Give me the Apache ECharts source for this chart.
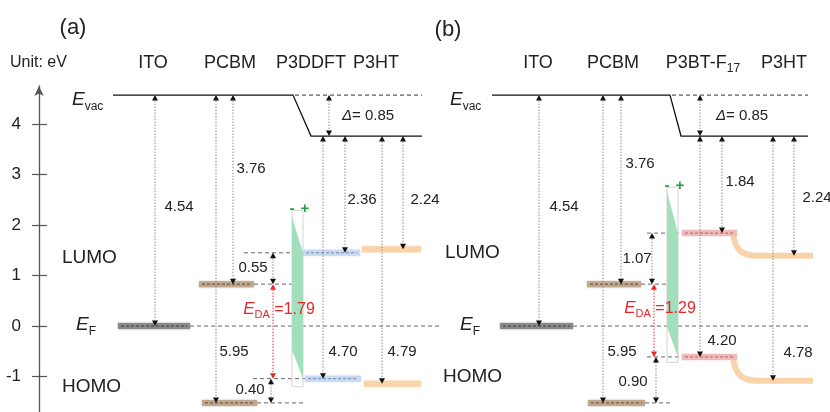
<!DOCTYPE html>
<html>
<head>
<meta charset="utf-8">
<script src="https://cdn.jsdelivr.net/npm/echarts@6/dist/echarts.min.js"></script>
<style>
html,body{margin:0;padding:0;background:#fff;}
#chart{width:830px;height:412px;}
</style>
</head>
<body>
<div id="chart"></div>
<script>
// ---- data (energies in eV, Fermi level = 0) ----
const panelTags = ['(a)', '(b)'];
const donorNames = ['P3DDFT', 'P3BT-F'];
const donorSub = ['', '17'];
const vacLevel = [4.57, 4.57];
const vacShifted = [3.76, 3.76];
const itoLevel = [0, 0];
const pcbmLUMO = [0.83, 0.83];
const pcbmHOMO = [-1.52, -1.52];
const donorLUMO = [1.45, 1.84];
const donorHOMO = [-1.04, -0.61];
const p3htLUMO = [1.52, 1.39];
const p3htHOMO = [-1.14, -1.08];
// numbers written next to the arrows
const itoWF = ['4.54', '4.54'];
const pcbmEA = ['3.76', '3.76'];
const pcbmIP = ['5.95', '5.95'];
const donorEA = ['2.36', '1.84'];
const donorIP = ['4.70', '4.20'];
const p3htEA = ['2.24', '2.24'];
const p3htIP = ['4.79', '4.78'];
const vacStep = ['0.85', '0.85'];
const lumoOffset = ['0.55', '1.07'];
const homoOffset = ['0.40', '0.90'];
const eDA = ['1.79', '1.29'];
// interface dipole wedge
const dipoleTop = [2.29, 2.75];
const wedgeTop = [2.16, 2.66];
const dipoleBottom = [-1.2, -0.72];
const wedgeFoot = [-0.47, -0.02];
const yTicks = [-1, 0, 1, 2, 3, 4];

// ---- layout (x in px; label anchors as [x, eV]) ----
const colX = [
  {vac:[113,293,311,422], ito:[118,190], itoArrow:155, efDash:[190,440],
   pcbmL:[199,254], pcbmH:[202,257], pcbmLDash:297, pcbmHDash:303, pcbmArrowH:216, pcbmArrowL:233,
   gapL:273, gapEDA:273, gapH:271, donorLDash:244, donorHDash:253, dipole:[292,303],
   donorL:[303,360], donorH:[305,361], stepArrow:329, donorArrowH:323, donorArrowL:345,
   p3htL:[362,421], p3htH:[364,421], p3htArrowH:382, p3htArrowL:403, head:[153,230,311,376]},
  {vac:[492,670,681,808], ito:[500,573], itoArrow:539, efDash:[573,810],
   pcbmL:[587,641], pcbmH:[588,645], pcbmLDash:667, pcbmHDash:671, pcbmArrowH:603, pcbmArrowL:621,
   gapL:652, gapEDA:654, gapH:656, donorLDash:647, donorHDash:647, dipole:[667,678],
   donorL:[682,737], donorH:[682,737], stepArrow:700, donorArrowH:700, donorArrowL:722,
   bend:[733,758,813], p3htArrowH:773, p3htArrowL:794, head:[538,613,703,784]}
];
const labelPos = [
  {tag:[73,5.9], ito:[179,2.36], pcbmIP:[234,-0.51], pcbmEA:[251,3.11], gapL:[253,1.15], eda:[279,0.34],
   gapH:[250,-1.26], step:[368,4.16], donorIP:[343,-0.51], donorEA:[362,2.49], p3htIP:[402,-0.51],
   p3htEA:[425,2.49], evac:[72,4.47], ef:[76,0.02], lumo:[62,1.35], homo:[62,-1.2]},
  {tag:[448,5.86], ito:[564,2.36], pcbmIP:[622,-0.51], pcbmEA:[640,3.21], gapL:[637,1.33], eda:[660,0.36],
   gapH:[633,-1.1], step:[742,4.16], donorIP:[722,-0.29], donorEA:[740,2.85], p3htIP:[798,-0.53],
   p3htEA:[817,2.53], evac:[450,4.47], ef:[460,0.02], lumo:[445,1.45], homo:[443,-1.0]}
];
const headerLevel = 5.21;

const FONT = 'Liberation Sans';
const INK = '#222';
const RED = '#e8262a';
const barStyles = {
  ito: {fill:'#8a8a8a', dash:'#3a3a3a'},
  pcbm: {fill:'#bea88f', dash:'#5e4b38'},
  p3ddft: {fill:'#c9daf0', dash:'#6f88b3'},
  p3ht: {fill:'#f9d4ab', dash:null},
  p3bt: {fill:'#ebbcbc', dash:'#d9534f'}
};

const ctx = document.createElement('canvas').getContext('2d');
function tw(t, size, italic){
  ctx.font = (italic ? 'italic ' : '') + size + 'px "' + FONT + '"';
  return ctx.measureText(t).width;
}
function txt(x, e, t, size, opt){
  return Object.assign({x:x, e:e, parts:[{t:t, size:size}]}, opt || {});
}

const bars = [], dashes = [], arrows = [], texts = [], vacs = [], dipoles = [], bends = [];
texts.push(txt(10, headerLevel, 'Unit: eV', 16, {align:'left'}));

panelTags.forEach(function(tag, i){
  const X = colX[i], P = labelPos[i];
  const dk = i === 0 ? 'p3ddft' : 'p3bt';
  vacs.push({x0:X.vac[0], xb0:X.vac[1], xb1:X.vac[2], x1:X.vac[3], e0:vacLevel[i], e1:vacShifted[i]});

  bars.push({x0:X.ito[0], x1:X.ito[1], e:itoLevel[i], k:'ito'});
  bars.push({x0:X.pcbmL[0], x1:X.pcbmL[1], e:pcbmLUMO[i], k:'pcbm'});
  bars.push({x0:X.pcbmH[0], x1:X.pcbmH[1], e:pcbmHOMO[i], k:'pcbm'});
  bars.push({x0:X.donorL[0], x1:X.donorL[1], e:donorLUMO[i], k:dk});
  bars.push({x0:X.donorH[0], x1:X.donorH[1], e:donorHOMO[i], k:dk});
  if (X.bend) {
    bends.push({x0:X.bend[0], xb:X.bend[1], x1:X.bend[2], e0:donorLUMO[i], e1:p3htLUMO[i]});
    bends.push({x0:X.bend[0], xb:X.bend[1], x1:X.bend[2], e0:donorHOMO[i], e1:p3htHOMO[i]});
  } else {
    bars.push({x0:X.p3htL[0], x1:X.p3htL[1], e:p3htLUMO[i], k:'p3ht'});
    bars.push({x0:X.p3htH[0], x1:X.p3htH[1], e:p3htHOMO[i], k:'p3ht'});
  }

  dashes.push({x0:X.efDash[0], x1:X.efDash[1], e:itoLevel[i]});
  dashes.push({x0:X.pcbmL[1], x1:X.pcbmLDash, e:pcbmLUMO[i]});
  dashes.push({x0:X.pcbmH[1], x1:X.pcbmHDash, e:pcbmHOMO[i]});
  dashes.push({x0:X.donorLDash, x1:X.donorL[0], e:donorLUMO[i]});
  dashes.push({x0:X.donorHDash, x1:X.donorH[0], e:donorHOMO[i]});

  dipoles.push({x0:X.dipole[0], x1:X.dipole[1], top:dipoleTop[i], wedgeTop:wedgeTop[i],
    bottom:dipoleBottom[i], foot:wedgeFoot[i], eL:donorLUMO[i], eH:donorHOMO[i]});

  arrows.push({x:X.itoArrow, e0:vacLevel[i], e1:itoLevel[i]});
  arrows.push({x:X.pcbmArrowH, e0:vacLevel[i], e1:pcbmHOMO[i]});
  arrows.push({x:X.pcbmArrowL, e0:vacLevel[i], e1:pcbmLUMO[i]});
  arrows.push({x:X.gapL, e0:donorLUMO[i], e1:pcbmLUMO[i]});
  arrows.push({x:X.gapEDA, e0:pcbmLUMO[i], e1:donorHOMO[i], red:true});
  arrows.push({x:X.gapH, e0:donorHOMO[i], e1:pcbmHOMO[i]});
  arrows.push({x:X.stepArrow, e0:vacLevel[i], e1:vacShifted[i]});
  arrows.push({x:X.donorArrowH, e0:vacShifted[i], e1:donorHOMO[i]});
  arrows.push({x:X.donorArrowL, e0:vacShifted[i], e1:donorLUMO[i]});
  arrows.push({x:X.p3htArrowH, e0:vacShifted[i], e1:p3htHOMO[i]});
  arrows.push({x:X.p3htArrowL, e0:vacShifted[i], e1:p3htLUMO[i]});

  texts.push(txt(P.tag[0], P.tag[1], tag, 22));
  texts.push(txt(X.head[0], headerLevel, 'ITO', 18));
  texts.push(txt(X.head[1], headerLevel, 'PCBM', 18));
  texts.push({x:X.head[2], e:headerLevel, parts:[{t:donorNames[i], size:18}, {t:donorSub[i], size:12, dy:4}]});
  texts.push(txt(X.head[3], headerLevel, 'P3HT', 18));

  texts.push(txt(P.ito[0], P.ito[1], itoWF[i], 15));
  texts.push(txt(P.pcbmIP[0], P.pcbmIP[1], pcbmIP[i], 15));
  texts.push(txt(P.pcbmEA[0], P.pcbmEA[1], pcbmEA[i], 15));
  texts.push(txt(P.gapL[0], P.gapL[1], lumoOffset[i], 15));
  texts.push(txt(P.gapH[0], P.gapH[1], homoOffset[i], 15));
  texts.push(txt(P.donorIP[0], P.donorIP[1], donorIP[i], 15));
  texts.push(txt(P.donorEA[0], P.donorEA[1], donorEA[i], 15));
  texts.push(txt(P.p3htIP[0], P.p3htIP[1], p3htIP[i], 15));
  texts.push(txt(P.p3htEA[0], P.p3htEA[1], p3htEA[i], 15));
  texts.push({x:P.step[0], e:P.step[1], parts:[{t:'\u0394', size:15, italic:true}, {t:'= ' + vacStep[i], size:15}]});
  texts.push({x:P.eda[0], e:P.eda[1], color:RED,
    parts:[{t:'E', size:17, italic:true}, {t:'DA', size:11, dy:4}, {t:' =' + eDA[i], size:16}]});
  texts.push({x:P.evac[0], e:P.evac[1], align:'left', parts:[{t:'E', size:19, italic:true}, {t:'vac', size:12, dy:4}]});
  texts.push({x:P.ef[0], e:P.ef[1], align:'left', parts:[{t:'E', size:19, italic:true}, {t:'F', size:12, dy:4}]});
  texts.push(txt(P.lumo[0], P.lumo[1], 'LUMO', 19, {align:'left'}));
  texts.push(txt(P.homo[0], P.homo[1], 'HOMO', 19, {align:'left'}));
});

// ---- renderers ----
function drawBar(it, api){
  const a = api.coord([it.x0, it.e]), b = api.coord([it.x1, it.e]);
  const st = barStyles[it.k];
  const ch = [{type:'rect', shape:{x:a[0], y:a[1]-3, width:b[0]-a[0], height:6},
    style:{fill:st.fill, shadowBlur:2, shadowColor:st.fill}}];
  if (st.dash) ch.push({type:'line', shape:{x1:a[0]+3, y1:a[1], x2:b[0]-3, y2:b[1]},
    style:{stroke:st.dash, lineWidth:1, lineDash:[3,2]}});
  return {type:'group', children:ch};
}
function drawBend(it, api){
  const a = api.coord([it.x0, it.e0]), b = api.coord([it.xb, it.e1]), c = api.coord([it.x1, it.e1]);
  const st = {stroke:barStyles.p3ht.fill, lineWidth:6, fill:'none'};
  return {type:'group', children:[
    {type:'bezierCurve', shape:{x1:a[0], y1:a[1], x2:b[0], y2:b[1],
      cpx1:a[0]+2, cpy1:a[1]+(b[1]-a[1])*0.75, cpx2:a[0]+(b[0]-a[0])*0.35, cpy2:b[1]}, style:st},
    {type:'line', shape:{x1:b[0]-1, y1:b[1], x2:c[0], y2:c[1]}, style:st}
  ]};
}
function drawDash(it, api){
  const a = api.coord([it.x0, it.e]), b = api.coord([it.x1, it.e]);
  return {type:'line', shape:{x1:a[0], y1:a[1], x2:b[0], y2:b[1]},
    style:{stroke:'#666', lineWidth:1, lineDash:[4,3]}};
}
function drawVac(it, api){
  const p0 = api.coord([it.x0, it.e0]), p1 = api.coord([it.xb0, it.e0]);
  const p2 = api.coord([it.xb1, it.e1]), p3 = api.coord([it.x1, it.e1]);
  const q = api.coord([it.x1, it.e0]);
  return {type:'group', children:[
    {type:'polyline', shape:{points:[p0, p1, p2, p3]}, style:{stroke:'#111', lineWidth:1.3, fill:'none'}},
    {type:'line', shape:{x1:p1[0]+2, y1:p1[1], x2:q[0], y2:q[1]}, style:{stroke:'#333', lineWidth:1, lineDash:[4,3]}}
  ]};
}
function drawDipole(it, api){
  const tl = api.coord([it.x0, it.top]), br = api.coord([it.x1, it.bottom]);
  const g = [api.coord([it.x0, it.wedgeTop]), api.coord([it.x1, it.eL]),
             api.coord([it.x1, it.eH]), api.coord([it.x0, it.foot])];
  const sign = {fontSize:15, fontWeight:'bold', fontFamily:FONT, fill:'#23a046', align:'center', verticalAlign:'middle'};
  return {type:'group', children:[
    {type:'rect', shape:{x:tl[0], y:tl[1], width:br[0]-tl[0], height:br[1]-tl[1]},
      style:{fill:'none', stroke:'#d4d4d4', lineWidth:1}},
    {type:'polygon', shape:{points:g}, style:{fill:'#a2dfbd'}},
    {type:'text', x:tl[0], y:tl[1]-1, style:Object.assign({text:'-'}, sign)},
    {type:'text', x:br[0]+2, y:tl[1]-1, style:Object.assign({text:'+'}, sign)}
  ]};
}
function drawArrow(it, api){
  const a = api.coord([it.x, it.e0]), b = api.coord([it.x, it.e1]);
  const dir = b[1] > a[1] ? 1 : -1;
  const head = it.red ? RED : '#111';
  const h = 5.5, w = 3;
  return {type:'group', children:[
    {type:'line', shape:{x1:a[0], y1:a[1]+dir*h, x2:b[0], y2:b[1]-dir*h},
      style:{stroke:it.red ? RED : '#8c8c8c', lineWidth:1, lineDash:[1.5,1.5]}},
    {type:'polygon', shape:{points:[[a[0],a[1]],[a[0]-w,a[1]+dir*h],[a[0]+w,a[1]+dir*h]]}, style:{fill:head}},
    {type:'polygon', shape:{points:[[b[0],b[1]],[b[0]-w,b[1]-dir*h],[b[0]+w,b[1]-dir*h]]}, style:{fill:head}}
  ]};
}
function drawText(it, api){
  const p = api.coord([it.x, it.e]);
  const S = it.parts[0].size;
  let total = 0;
  const ws = it.parts.map(function(q){ const w = tw(q.t, q.size, q.italic); total += w; return w; });
  let x = it.align === 'left' ? p[0] : p[0] - total / 2;
  const base = p[1] + 0.35 * S;
  const ch = it.parts.map(function(q, k){
    const el = {type:'text', x:x, y:base + (q.dy || 0) - 0.35 * q.size,
      style:{text:q.t, fontSize:q.size, fontFamily:FONT, fontStyle:q.italic ? 'italic' : 'normal',
        fill:it.color || INK, align:'left', verticalAlign:'middle'}};
    x += ws[k];
    return el;
  });
  return {type:'group', children:ch};
}
function custom(name, items, draw, z){
  return {
    type:'custom', name:name, z:z, silent:true, animation:false,
    data:items.map(function(it){ return [it.x != null ? it.x : it.x0, it.e != null ? it.e : (it.e0 != null ? it.e0 : it.top)]; }),
    renderItem:function(params, api){ return draw(items[params.dataIndex], api); }
  };
}

const chart = echarts.init(document.getElementById('chart'));
chart.setOption({
  animation:false,
  grid:{left:39, right:0, top:86, bottom:0},
  xAxis:{type:'value', min:39, max:830, show:false},
  yAxis:[{
    type:'value', min:-1.7, max:4.75, position:'left',
    axisLine:{show:true, symbol:['none','arrow'], symbolSize:[7,10], lineStyle:{color:'#555', width:1.3}},
    axisTick:{show:true, length:7, customValues:yTicks, lineStyle:{color:'#555', width:1.2}},
    axisLabel:{show:true, customValues:yTicks, color:INK, fontSize:17, fontFamily:FONT, margin:18},
    splitLine:{show:false}
  }, {
    type:'value', min:-1.7, max:4.75, position:'left', offset:0,
    axisLine:{show:false},
    axisTick:{show:true, inside:true, length:8, customValues:yTicks, lineStyle:{color:'#555', width:1.2}},
    axisLabel:{show:false},
    splitLine:{show:false}
  }],
  series:[
    custom('bends', bends, drawBend, 1),
    custom('levels', bars, drawBar, 2),
    custom('dashes', dashes, drawDash, 3),
    custom('dipoles', dipoles, drawDipole, 4),
    custom('vacuum', vacs, drawVac, 5),
    custom('arrows', arrows, drawArrow, 6),
    custom('texts', texts, drawText, 7)
  ]
});
</script>
</body>
</html>
